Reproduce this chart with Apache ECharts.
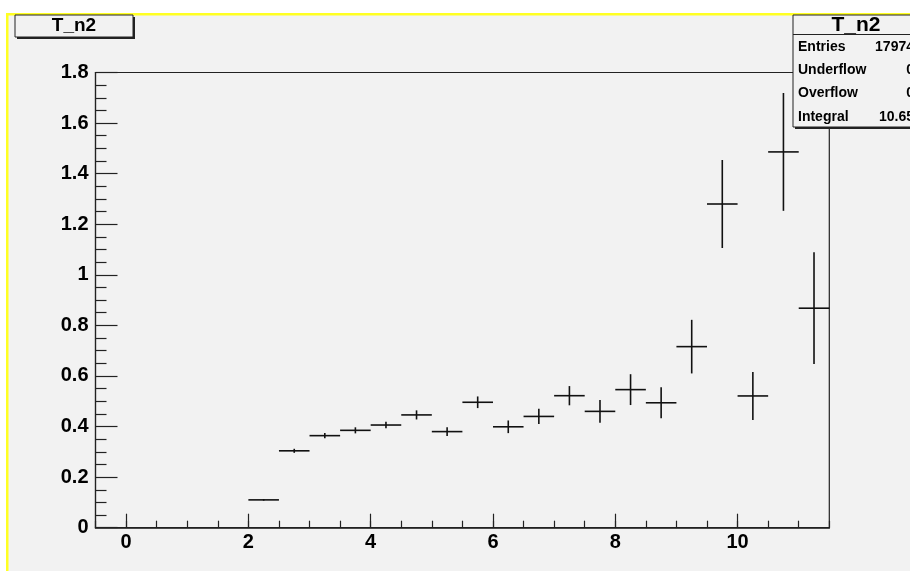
<!DOCTYPE html>
<html>
<head>
<meta charset="utf-8">
<script src="https://cdn.jsdelivr.net/npm/echarts@6/dist/echarts.min.js"></script>
<style>
  html, body { margin: 0; padding: 0; background: #ffffff; }
  #chart { width: 910px; height: 571px; }
</style>
</head>
<body>
<div id="chart"></div>
<script>
// Histogram T_n2: bin centres, contents and errors (bin width 0.5)
const binCenters = [2.25, 2.75, 3.25, 3.75, 4.25, 4.75, 5.25, 5.75, 6.25, 6.75,
                    7.25, 7.75, 8.25, 8.75, 9.25, 9.75, 10.25, 10.75, 11.25];
const binContents = [0.110, 0.304, 0.364, 0.385, 0.406, 0.446, 0.380, 0.496, 0.399, 0.440,
                     0.522, 0.460, 0.546, 0.494, 0.716, 1.280, 0.521, 1.486, 0.868];
const binErrors = [0.003, 0.008, 0.010, 0.012, 0.013, 0.018, 0.017, 0.023, 0.025, 0.030,
                   0.038, 0.045, 0.061, 0.061, 0.106, 0.174, 0.095, 0.233, 0.221];
const binWidth = 0.5;

// Axis ranges and labels
const xRange = [-0.5, 11.5];
const xLabelRange = [0, 10];
const yRange = [0, 1.8];

// Statistics box text
const histName = 'T_n2';
const statLabels = ['Entries', 'Underflow', 'Overflow', 'Integral'];
const statValues = ['17974', '0', '0', '10.65'];

const FONT = '"Liberation Sans", Arial, Helvetica, sans-serif';

// Frame geometry (pixels)
const W = 910, H = 571;
const frame = { left: 95.5, top: 72.5, right: 829.3, bottom: 527.7 };
const pxPerX = (frame.right - frame.left) / (xRange[1] - xRange[0]);

const chart = echarts.init(document.getElementById('chart'), null, { renderer: 'canvas' });

const data = binCenters.map((c, i) => [c, binContents[i], binErrors[i]]);

function renderErrorCross(params, api) {
  const x = api.value(0), y = api.value(1), e = api.value(2);
  const hw = binWidth / 2;
  const pL = api.coord([x - hw, y]);
  const pR = api.coord([x + hw, y]);
  const pT = api.coord([x, y + e]);
  const pB = api.coord([x, y - e]);
  const style = { stroke: '#111', lineWidth: 1.6 };
  return {
    type: 'group',
    children: [
      { type: 'line', shape: { x1: pL[0], y1: pL[1], x2: pR[0], y2: pR[1] }, style },
      { type: 'line', shape: { x1: pT[0], y1: pT[1], x2: pB[0], y2: pB[1] }, style }
    ]
  };
}

const labelStyle = { fontFamily: FONT, fontWeight: 'bold', fontSize: 20, color: '#000' };

// Stats box rows
const statRowsY = [47, 70, 93, 117];
const statChildren = [];
statLabels.forEach((lab, i) => {
  statChildren.push({
    type: 'text', z: 102, x: 798, y: statRowsY[i],
    style: { text: lab, font: 'bold 14px ' + FONT, fill: '#000', textVerticalAlign: 'middle', textAlign: 'left' }
  });
  statChildren.push({
    type: 'text', z: 102, x: 914, y: statRowsY[i],
    style: { text: statValues[i], font: 'bold 14px ' + FONT, fill: '#000', textVerticalAlign: 'middle', textAlign: 'right' }
  });
});

const option = {
  animation: false,
  backgroundColor: '#f2f2f2',
  grid: [
    {
      left: frame.left, top: frame.top,
      right: W - frame.right, bottom: H - frame.bottom,
      show: true, borderColor: '#222', borderWidth: 1.2, backgroundColor: 'transparent'
    },
    {
      // labelled major ticks on the x axis, spanning 0..10
      left: frame.left + (xLabelRange[0] - xRange[0]) * pxPerX,
      top: frame.top,
      width: (xLabelRange[1] - xLabelRange[0]) * pxPerX,
      bottom: H - frame.bottom,
      show: false
    }
  ],
  xAxis: [
    {
      type: 'value', gridIndex: 0, min: xRange[0], max: xRange[1], interval: 0.5,
      axisLine: { show: true, onZero: false, lineStyle: { color: '#222', width: 1.6 } },
      axisTick: { show: true, inside: true, length: 7, lineStyle: { color: '#222', width: 1.2 } },
      axisLabel: { show: false },
      splitLine: { show: false }
    },
    {
      type: 'value', gridIndex: 1, min: xLabelRange[0], max: xLabelRange[1], interval: 2,
      axisLine: { show: false, onZero: false },
      axisTick: { show: true, inside: true, length: 14, lineStyle: { color: '#222', width: 1.2 } },
      axisLabel: Object.assign({ margin: 5 }, labelStyle),
      splitLine: { show: false }
    }
  ],
  yAxis: [
    {
      type: 'value', gridIndex: 0, min: yRange[0], max: yRange[1], interval: 0.2,
      axisLine: { show: true, onZero: false, lineStyle: { color: '#222', width: 1.2 } },
      axisTick: { show: true, inside: true, length: 22, lineStyle: { color: '#222', width: 1.2 } },
      minorTick: { show: true, splitNumber: 4, length: 11, lineStyle: { color: '#222', width: 1.2 } },
      axisLabel: Object.assign({ margin: 7, formatter: v => String(Math.round(v * 10) / 10) }, labelStyle),
      splitLine: { show: false }
    },
    {
      type: 'value', gridIndex: 1, min: 0, max: 1, show: false
    }
  ],
  series: [
    {
      type: 'custom', xAxisIndex: 0, yAxisIndex: 0,
      renderItem: renderErrorCross,
      data: data,
      clip: false,
      z: 5
    }
  ],
  graphic: [
    // white margins and yellow canvas edges
    { type: 'rect', z: 90, shape: { x: 0, y: 0, width: W, height: 13 }, style: { fill: '#ffffff' } },
    { type: 'rect', z: 90, shape: { x: 0, y: 0, width: 6, height: H }, style: { fill: '#ffffff' } },
    { type: 'rect', z: 91, shape: { x: 6, y: 13, width: W - 6, height: 2.5 }, style: { fill: '#ffff22' } },
    { type: 'rect', z: 91, shape: { x: 6, y: 13, width: 2.5, height: H - 13 }, style: { fill: '#ffff22' } },

    // title box (top left)
    { type: 'rect', z: 100, shape: { x: 17, y: 17, width: 118, height: 22 }, style: { fill: '#222' } },
    { type: 'rect', z: 101, shape: { x: 15, y: 15, width: 118, height: 22 }, style: { fill: '#f2f2f2', stroke: '#222', lineWidth: 1 } },
    { type: 'text', z: 102, x: 74, y: 26,
      style: { text: histName, font: 'bold 19px ' + FONT, fill: '#000', textAlign: 'center', textVerticalAlign: 'middle' } },

    // statistics box (top right)
    { type: 'rect', z: 100, shape: { x: 795, y: 17, width: 130, height: 112 }, style: { fill: '#222' } },
    { type: 'rect', z: 101, shape: { x: 793, y: 15, width: 130, height: 112 }, style: { fill: '#f2f2f2', stroke: '#222', lineWidth: 1 } },
    { type: 'line', z: 102, shape: { x1: 793, y1: 34.5, x2: W, y2: 34.5 }, style: { stroke: '#222', lineWidth: 1 } },
    { type: 'text', z: 102, x: 856, y: 25,
      style: { text: histName, font: 'bold 21px ' + FONT, fill: '#000', textAlign: 'center', textVerticalAlign: 'middle' } }
  ].concat(statChildren)
};

chart.setOption(option);
</script>
</body>
</html>
